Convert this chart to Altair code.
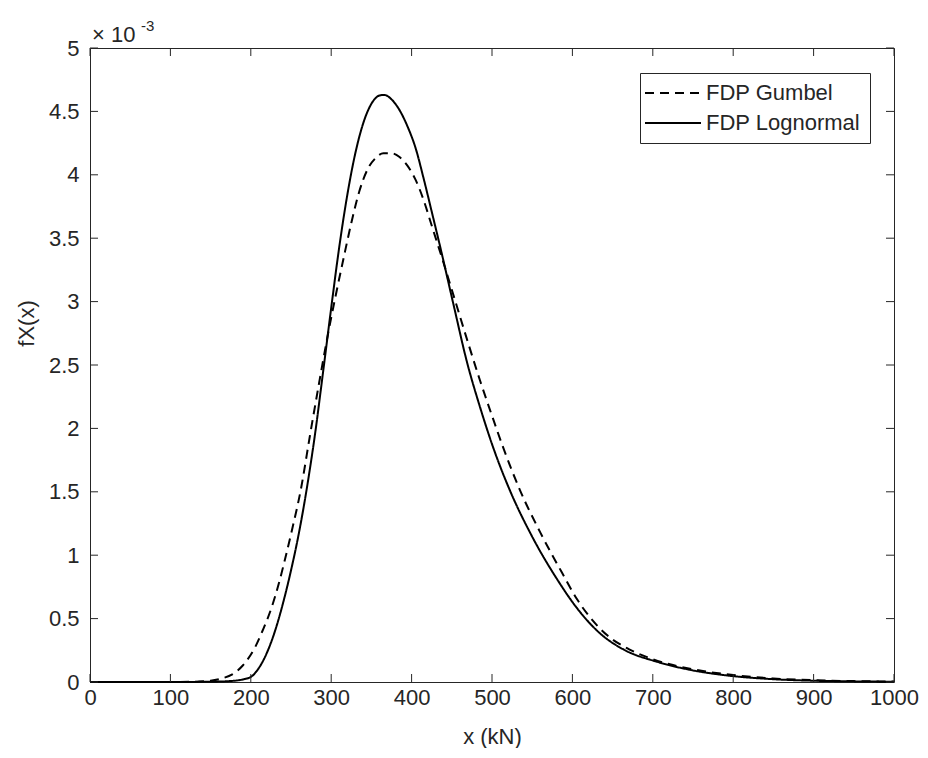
import altair as alt
import pandas as pd

# Values of the density in units of 10^-3
lognormal_x = [0, 50, 100, 150, 175, 190, 200, 210, 220, 230, 240, 250, 260, 270, 280, 290, 300, 310, 320, 330, 340,
               350, 360, 366, 375, 385, 395, 405, 415, 425, 436, 452, 469, 485, 502, 523, 548, 581, 606, 635, 664,
               705, 747, 788, 850, 900, 950, 1000]
lognormal_y = [0, 0, 0, 0.002, 0.008, 0.02, 0.04, 0.11, 0.23, 0.40, 0.62, 0.88, 1.18, 1.54, 1.96, 2.45, 2.95, 3.43,
               3.84, 4.17, 4.41, 4.56, 4.625, 4.63, 4.595, 4.51, 4.38, 4.21, 3.97, 3.71, 3.42, 2.98, 2.52, 2.17, 1.84,
               1.50, 1.17, 0.81, 0.58, 0.38, 0.255, 0.16, 0.095, 0.055, 0.022, 0.01, 0.005, 0.002]

gumbel_x = [0, 100, 125, 150, 165, 177, 190, 205, 215, 226, 235, 243, 252, 262, 274, 285, 295, 305, 315, 325, 335,
            345, 355, 365, 375, 385, 395, 405, 415, 425, 440, 455, 470, 485, 500, 515, 535, 560, 589, 606, 622, 643,
            670, 700, 750, 800, 850, 900, 950, 1000]
gumbel_y = [0, 0, 0.002, 0.01, 0.03, 0.06, 0.13, 0.27, 0.41, 0.59, 0.78, 0.98, 1.22, 1.51, 1.96, 2.36, 2.71, 3.03,
            3.33, 3.62, 3.87, 4.04, 4.13, 4.17, 4.17, 4.14, 4.07, 3.96, 3.80, 3.60, 3.30, 2.99, 2.68, 2.38, 2.10,
            1.83, 1.51, 1.18, 0.84, 0.65, 0.51, 0.37, 0.26, 0.18, 0.10, 0.055, 0.028, 0.014, 0.007, 0.003]

series_names = ["FDP Gumbel", "FDP Lognormal"]
x_ticks = [0, 100, 200, 300, 400, 500, 600, 700, 800, 900, 1000]
y_ticks = [0, 0.5, 1, 1.5, 2, 2.5, 3, 3.5, 4, 4.5, 5]

df = pd.concat([
    pd.DataFrame({"x": gumbel_x, "y": gumbel_y, "series": series_names[0]}),
    pd.DataFrame({"x": lognormal_x, "y": lognormal_y, "series": series_names[1]}),
])
xt = pd.DataFrame({"x": x_ticks})
yt = pd.DataFrame({"y": y_ticks})

W, H = 804, 634
FONT = "Liberation Sans"
INK = "#262626"
FS = 22

xscale = alt.Scale(domain=[0, 1000], nice=False, zero=False)
yscale = alt.Scale(domain=[0, 5], nice=False)

legend_kw = dict(title=None, orient="none", legendX=550, legendY=25,
                 strokeColor=INK, fillColor="white", padding=9,
                 symbolType="M-2.8,0H2.8", symbolSize=400, symbolStrokeWidth=2,
                 symbolOffset=13, labelOffset=22,
                 labelFontSize=FS, labelFont=FONT, labelColor=INK,
                 rowPadding=8)

lines = alt.Chart(df).mark_line(strokeWidth=2, interpolate="monotone").encode(
    x=alt.X("x:Q", scale=xscale, title="x (kN)",
            axis=alt.Axis(values=x_ticks, format="d", ticks=False, domain=False, grid=False,
                          labelFlush=False, labelPadding=5, titlePadding=18)),
    y=alt.Y("y:Q", scale=yscale, title="fX(x)",
            axis=alt.Axis(values=y_ticks, format="~g", ticks=False, domain=False, grid=False,
                          labelFlush=False, labelPadding=11, titleX=-52, titleY=275,
                          titleAnchor="middle")),
    color=alt.Color("series:N", scale=alt.Scale(domain=series_names, range=["black", "black"]),
                    legend=alt.Legend(**legend_kw)),
    strokeDash=alt.StrokeDash("series:N", scale=alt.Scale(domain=series_names, range=[[9, 6], [1, 0]]),
                              legend=alt.Legend(**legend_kw)),
)

tick_len = 8
xb = alt.Chart(xt).mark_rule(color=INK, strokeWidth=1).encode(
    x=alt.X("x:Q", scale=xscale), y=alt.value(H), y2=alt.value(H - tick_len))
xtop = alt.Chart(xt).mark_rule(color=INK, strokeWidth=1).encode(
    x=alt.X("x:Q", scale=xscale), y=alt.value(0), y2=alt.value(tick_len))
yl = alt.Chart(yt).mark_rule(color=INK, strokeWidth=1).encode(
    y=alt.Y("y:Q", scale=yscale), x=alt.value(0), x2=alt.value(tick_len))
yr = alt.Chart(yt).mark_rule(color=INK, strokeWidth=1).encode(
    y=alt.Y("y:Q", scale=yscale), x=alt.value(W), x2=alt.value(W - tick_len))

one = pd.DataFrame({"t": [0]})
times10 = alt.Chart(one).mark_text(align="left", baseline="alphabetic", fontSize=FS, font=FONT,
                                   color=INK).encode(x=alt.value(2), y=alt.value(-6), text=alt.value("× 10"))
exp3 = alt.Chart(one).mark_text(align="left", baseline="alphabetic", fontSize=15, font=FONT,
                                color=INK).encode(x=alt.value(51), y=alt.value(-17), text=alt.value("-3"))

chart = alt.layer(lines, xb, xtop, yl, yr, times10, exp3).properties(
    width=W, height=H,
    background="white",
    autosize=alt.AutoSizeParams(type="none"),
    padding={"left": 82, "top": 40, "right": 26, "bottom": 66},
).configure_view(stroke=INK, strokeWidth=1).configure_axis(
    labelFont=FONT, labelFontSize=FS, labelColor=INK,
    titleFont=FONT, titleFontSize=FS, titleColor=INK, titleFontWeight="normal",
)

chart.save("out.html", embed_options={"renderer": "svg", "actions": False})
